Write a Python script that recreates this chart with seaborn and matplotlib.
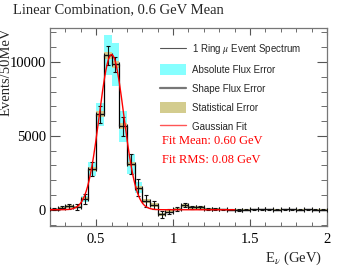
import numpy as np
import pandas as pd
import matplotlib
matplotlib.use("Agg")
import matplotlib.pyplot as plt
from matplotlib.lines import Line2D
from matplotlib.patches import Patch
import seaborn as sns

# ---- data ----
bin_edges = [round(0.2 + 0.05 * i, 3) for i in range(37)]
events = [30, 150, 220, 180, 750, 2750, 6450, 10450, 9850, 5650, 3100, 1500,
          600, 330, -300, -140, 60, 300, 160, 160, 40, 30, 20, 10,
          -20, 10, 20, 30, 20, 10, 30, 20, 10, 20, 10, 10]
flux_err = [20, 40, 60, 60, 200, 450, 800, 1350, 1450, 1050, 700, 350,
            150, 100, 100, 60, 40, 60, 40, 40, 20, 10, 10, 10,
            10, 10, 10, 10, 10, 10, 10, 10, 10, 10, 10, 10]
stat_err = [40, 60, 70, 70, 110, 160, 200, 250, 250, 200, 160, 140,
            120, 120, 110, 100, 90, 90, 80, 80, 70, 60, 50, 50,
            40, 40, 40, 40, 40, 40, 40, 40, 40, 40, 40, 40]
bar_err = [80, 120, 150, 200, 330, 450, 600, 650, 500, 650, 650, 580,
           400, 280, 230, 180, 150, 130, 110, 100, 80, 60, 60, 50,
           50, 50, 50, 40, 40, 40, 40, 40, 40, 40, 40, 40]
fit_amp, fit_mean, fit_rms = 10500, 0.60, 0.08
fit_range = (0.2, 1.4)

title = "Linear Combination, 0.6 GeV Mean"
legend_labels = [r"1 Ring $\mu$ Event Spectrum", "Absolute Flux Error",
                 "Shape Flux Error", "Statistical Error", "Gaussian Fit"]
fit_texts = ["Fit Mean: 0.60 GeV", "Fit RMS: 0.08 GeV"]

# ---- plot ----
sns.set_theme(style="ticks")
plt.rcParams['font.family'] = ['Liberation Serif', 'DejaVu Serif']
plt.rcParams['mathtext.fontset'] = 'stix'

edges = np.array(bin_edges)
centers = (edges[:-1] + edges[1:]) / 2
width = 0.05
ev = np.array(events, float)
fe = np.array(flux_err, float)
se = np.array(stat_err, float)
be = np.array(bar_err, float)
df = pd.DataFrame({"E": centers, "N": ev})

fig = plt.figure(figsize=(3.44, 2.72), dpi=100)
ax = fig.add_axes([50/344, 1-226/272, 277/344, 198/272])

cyan = "#86ffff"
khaki = "#d3cc8e"
ax.bar(centers, 2*fe, bottom=ev-fe, width=width, color=cyan, linewidth=0, zorder=1)
ax.bar(centers, 2*se, bottom=ev-se, width=width, color=khaki, linewidth=0, zorder=2)

sns.histplot(data=df, x="E", weights="N", bins=bin_edges, element="step",
             fill=False, color="black", linewidth=0.9, ax=ax, zorder=3)
ax.errorbar(centers, ev, yerr=be, xerr=width/2, fmt="none", ecolor="#111111",
            elinewidth=0.8, capsize=1.2, capthick=0.8, zorder=4)

xf = np.linspace(fit_range[0], fit_range[1], 400)
yf = fit_amp * np.exp(-0.5 * ((xf - fit_mean) / fit_rms) ** 2)
sns.lineplot(x=xf, y=yf, color="red", linewidth=1.0, ax=ax, zorder=5)

ax.set_xlim(0.2, 2.0)
ax.set_ylim(-1100, 12300)
ax.set_xticks([0.5, 1, 1.5, 2])
ax.set_xticklabels(["0.5", "1", "1.5", "2"])
ax.set_xticks(np.arange(0.2, 2.0001, 0.1), minor=True)
ax.set_yticks([0, 5000, 10000])
ax.set_yticklabels(["0", "5000", "10000"])
ax.set_yticks(np.arange(-1000, 12001, 1000), minor=True)
ax.tick_params(which="both", direction="in", top=True, right=True,
               labelsize=10.5, colors="#555555", labelcolor="black")
ax.tick_params(axis="x", which="major", length=5, width=0.8, pad=5)
ax.tick_params(axis="x", which="minor", length=3, width=0.6)
ax.tick_params(axis="y", which="major", length=7, width=0.8, pad=3)
ax.tick_params(axis="y", which="minor", length=4, width=0.6)
for s in ax.spines.values():
    s.set_color("#777777")
    s.set_linewidth(0.9)

ax.set_xlabel(r"E$_{\nu}$ (GeV)", fontsize=10.5, loc="right", labelpad=3)
ax.xaxis.set_label_coords(322/277 - 50/277, -24/198)
ax.xaxis.label.set_horizontalalignment("right")
ax.set_ylabel("Events/50MeV", fontsize=10.5, loc="top")
ax.yaxis.set_label_coords(-37/277, 1.0)
fig.text(13/344, 1-10/272, title, fontsize=10.5, ha="left", va="center")

handles = [Line2D([], [], color="#555555", lw=0.8),
           Patch(facecolor=cyan, edgecolor="none"),
           Line2D([], [], color="#777777", lw=1.6),
           Patch(facecolor=khaki, edgecolor="none"),
           Line2D([], [], color="#ff5555", lw=1.0)]
leg = fig.legend(handles, legend_labels, loc="upper left",
                 bbox_to_anchor=(160/344, 1-42.5/272),
                 frameon=False, prop={"family": "Liberation Sans", "size": 7},
                 labelspacing=0.82, handlelength=2.7, handleheight=1.35,
                 handletextpad=0.6, borderaxespad=0, borderpad=0)
for i, t in enumerate(fit_texts):
    fig.text(162/344, 1-(141 + 19*i)/272, t, color="red", fontsize=9,
             ha="left", va="center")

fig.savefig("out.png", dpi=100)
